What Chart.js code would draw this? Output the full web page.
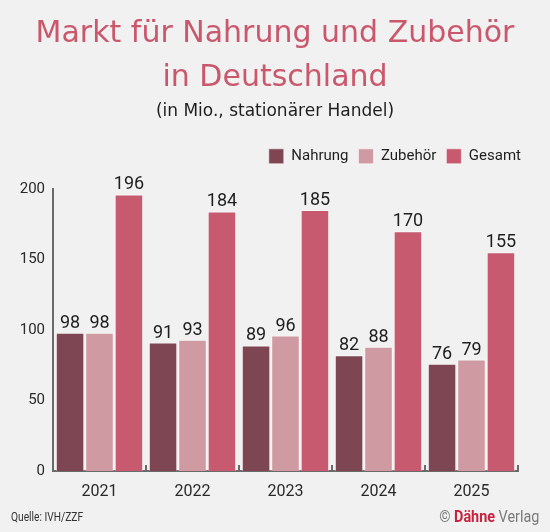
<!DOCTYPE html>
<html lang="de">
<head>
<meta charset="utf-8">
<script src="https://cdn.jsdelivr.net/npm/chart.js@4"></script>
<style>
  html, body { margin: 0; padding: 0; background: #f1f1f1; }
  #wrap { position: relative; width: 550px; height: 532px; }
  .foot { position: absolute; font-family: Roboto, sans-serif; }
  #quelle { left: 11px; top: 510px; font-size: 12px; color: #333; transform: scaleX(0.85); transform-origin: left center; }
  #verlag { right: 11px; top: 507px; font-size: 16px; color: #7a7a7a; transform: scaleX(0.9); transform-origin: right center; }
  #verlag b { color: #c8233f; font-weight: 700; }
</style>
</head>
<body>
<div id="wrap">
  <canvas id="marktChart" width="550" height="532"></canvas>
  <div class="foot" id="quelle">Quelle: IVH/ZZF</div>
  <div class="foot" id="verlag">© <b>Dähne</b> Verlag</div>
</div>
<script>
const years = ['2021', '2022', '2023', '2024', '2025'];
const nahrung = [98, 91, 89, 82, 76];
const zubehoer = [98, 93, 96, 88, 79];
const gesamt = [196, 184, 185, 170, 155];
const yTicks = [0, 50, 100, 150, 200];

// Werte über den Balken
const valueLabels = {
    id: 'valueLabels',
    afterDatasetsDraw(chart) {
        const ctx = chart.ctx;
        ctx.save();
        ctx.font = '18px Roboto, sans-serif';
        ctx.fillStyle = '#1e1e1e';
        ctx.textAlign = 'center';
        ctx.textBaseline = 'alphabetic';
        chart.data.datasets.forEach(function (ds, i) {
            chart.getDatasetMeta(i).data.forEach(function (bar, j) {
                ctx.fillText(ds.data[j], bar.x, bar.y - 5);
            });
        });
        ctx.restore();
    }
};

// kleine Striche nach oben an den Kategoriegrenzen
const boundaryTicks = {
    id: 'boundaryTicks',
    afterDraw(chart) {
        const x = chart.scales.x;
        const ctx = chart.ctx;
        const half = (x.getPixelForValue(1) - x.getPixelForValue(0)) / 2;
        ctx.save();
        ctx.strokeStyle = '#6a6a6a';
        ctx.lineWidth = 2;
        for (let i = 0; i < years.length; i++) {
            const px = Math.round(x.getPixelForValue(i) + half);
            ctx.beginPath();
            ctx.moveTo(px, x.top);
            ctx.lineTo(px, x.top - 6);
            ctx.stroke();
        }
        ctx.restore();
    }
};

// unsichtbare Achsen nur als Abstand
const spacer = function (size, horizontal) {
    return {
        type: 'linear',
        position: horizontal ? 'top' : 'right',
        display: true,
        grid: { display: false, drawTicks: false },
        border: { display: false },
        ticks: { display: false },
        afterFit: function (s) { if (horizontal) { s.height = size; } else { s.width = size; } }
    };
};

new Chart(document.getElementById('marktChart'), {
    type: 'bar',
    data: {
        labels: years,
        datasets: [
            { label: 'Nahrung', data: nahrung, backgroundColor: '#7e4652' },
            { label: 'Zubehör', data: zubehoer, backgroundColor: '#d09aa3' },
            { label: 'Gesamt', data: gesamt, backgroundColor: '#c75a6e' }
        ].map(function (d) {
            return Object.assign(d, {
                borderColor: 'rgba(255,255,255,0.55)',
                borderWidth: 1,
                categoryPercentage: 0.95,
                barPercentage: 0.97
            });
        })
    },
    plugins: [valueLabels, boundaryTicks],
    options: {
        responsive: false,
        animation: false,
        layout: { padding: { left: 19, right: 19, top: 0, bottom: 0 } },
        plugins: {
            title: {
                display: true,
                text: ['Markt für Nahrung und Zubehör', 'in Deutschland'],
                color: '#c9586d',
                font: { family: '"DejaVu Sans", sans-serif', size: 30, weight: 'normal', lineHeight: 1.48 },
                padding: { top: 12, bottom: 0 }
            },
            subtitle: {
                display: true,
                text: '(in Mio., stationärer Handel)',
                color: '#1e1e1e',
                font: { family: '"DejaVu Sans", sans-serif', size: 17, lineHeight: 1 },
                padding: { top: 2, bottom: 19 }
            },
            legend: {
                position: 'top',
                align: 'end',
                labels: {
                    boxWidth: 15,
                    boxHeight: 15,
                    padding: 10,
                    color: '#1e1e1e',
                    font: { family: 'Roboto, sans-serif', size: 15 }
                }
            },
            tooltip: { enabled: false }
        },
        scales: {
            x: {
                grid: { display: false, drawTicks: false },
                border: { color: '#6a6a6a', width: 2 },
                ticks: { color: '#2a2a2a', font: { family: 'Roboto, sans-serif', size: 16 }, padding: 11 },
                afterFit: function (s) { s.height = 61; }
            },
            gap: spacer(15, true),
            y: {
                min: 0,
                max: 200,
                grid: { display: false, drawTicks: false },
                border: { color: '#6a6a6a', width: 2 },
                afterBuildTicks: function (s) { s.ticks = yTicks.map(function (v) { return { value: v }; }); },
                ticks: { color: '#2a2a2a', font: { family: 'Roboto, sans-serif', size: 15 }, padding: 8 },
                afterFit: function (s) { s.width = 34; }
            },
            right: spacer(13, false)
        }
    }
});
</script>
</body>
</html>
